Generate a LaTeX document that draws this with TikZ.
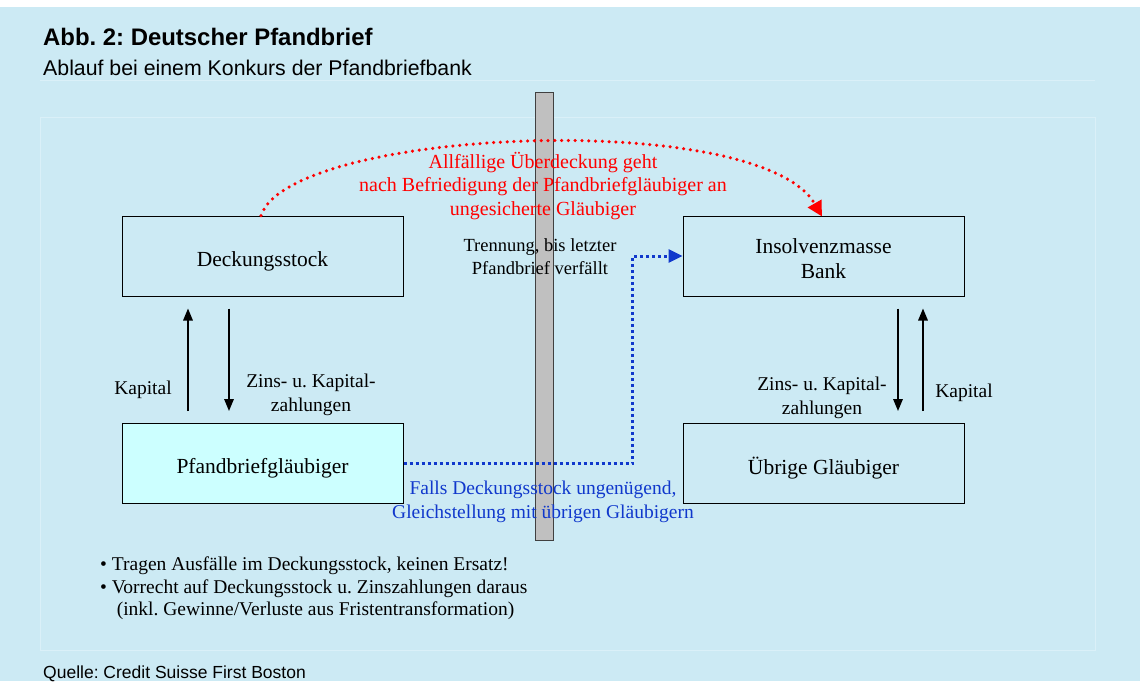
\documentclass[tikz,border=0pt]{standalone}
\usepackage{fontspec}
\setmainfont{Liberation Serif}
\setsansfont{Liberation Sans}
\usetikzlibrary{arrows.meta,positioning,calc}
\definecolor{bgblue}{RGB}{204,234,244}
\definecolor{faint}{RGB}{218,240,248}
\definecolor{pfcyan}{RGB}{204,255,255}
\definecolor{barg}{RGB}{192,192,192}
\definecolor{bard}{RGB}{64,64,64}
\definecolor{myred}{RGB}{255,0,0}
\definecolor{myblue}{RGB}{16,56,204}
\tikzset{
  box/.style={draw=black,line width=1pt,minimum width=281pt,minimum height=80pt,inner sep=0pt},
  boxtext/.style={inner sep=0pt,align=center,font=\fontsize{21.5}{25}\selectfont},
  lbl/.style={inner sep=0pt,align=center,font=\fontsize{19.5}{23.5}\selectfont},
  flow/.style={line width=1.6pt,-{Triangle[length=12pt,width=9.5pt]}},
  reddot/.style={draw=myred,line width=3.5pt,line cap=round,dash pattern=on 0pt off 6.8pt,-{Triangle[length=15pt,width=15pt,line cap=butt]}},
  bluedot/.style={draw=myblue,line width=3pt,dash pattern=on 3pt off 3pt,-{Triangle[length=14pt,width=13pt]}}
}
\begin{document}
\frenchspacing
\begin{tikzpicture}[x=1pt,y=-1pt]
\useasboundingbox (0,0) rectangle (1140,681);
\fill[white] (0,0) rectangle (1140,681);
\fill[bgblue] (0,7) rectangle (1140,681);
\draw[faint,line width=1pt] (40,80) -- (1095,80);
\draw[faint,line width=0.8pt] (40,117) rectangle (1095,650);
% title
\node[anchor=base west,inner sep=0pt,font=\sffamily\bfseries\fontsize{23.9}{27}\selectfont] (title) at (43,45) {Abb. 2: Deutscher Pfandbrief};
\node[anchor=base west,inner sep=0pt,font=\sffamily\fontsize{21.3}{24}\selectfont] (sub) at (43,75.5) {Ablauf bei einem Konkurs der Pfandbriefbank};
% boxes
\node[box] (ds) at (262.5,256) {};
\node[box] (ib) at (823.5,256) {};
\node[box,fill=pfcyan] (pg) at (262.5,463.5) {};
\node[box] (ug) at (823.5,463.5) {};
\node[boxtext,yshift=-5pt] (dst) at (ds) {Deckungsstock};
\node[boxtext,yshift=-2.5pt] (ibt) at (ib) {Insolvenzmasse\\Bank};
\node[boxtext,yshift=-4.5pt] (pgt) at (pg) {Pfandbriefgläubiger};
\node[boxtext,yshift=-4.5pt] (ugt) at (ug) {Übrige Gläubiger};
% separator bar
\node[draw=bard,fill=barg,line width=1pt,minimum width=18pt,minimum height=448pt,inner sep=0pt] (bar) at (544,316) {};
% left flows
\draw[flow] ([xshift=-74.5pt,yshift=12pt]pg.north) -- ([xshift=-74.5pt,yshift=-12pt]ds.south);
\draw[flow] ([xshift=-33.5pt,yshift=-12pt]ds.south) -- ([xshift=-33.5pt,yshift=12pt]pg.north);
% right flows
\draw[flow] ([xshift=74.5pt,yshift=-12pt]ib.south) -- ([xshift=74.5pt,yshift=12pt]ug.north);
\draw[flow] ([xshift=99.5pt,yshift=12pt]ug.north) -- ([xshift=99.5pt,yshift=-12pt]ib.south);
% flow labels
\node[lbl] (kl) at (143,390) {Kapital};
\node[lbl] (zl) at (311,395) {Zins- u. Kapital-\\zahlungen};
\node[lbl] (zr) at (822,398) {Zins- u. Kapital-\\zahlungen};
\node[lbl] (kr) at (964,393) {Kapital};
% red arc
\draw[reddot] ([xshift=-1.5pt]ds.north) .. controls (290,128) and (760,108) .. ([xshift=-1.5pt,yshift=-1pt]ib.north);
\node[lbl,font=\fontsize{20}{23.5}\selectfont,text=myred] (rt) at (543,186) {Allfällige Überdeckung geht\\nach Befriedigung der Pfandbriefgläubiger an\\ungesicherte Gläubiger};
% separation text
\node[lbl,font=\fontsize{18.5}{23}\selectfont] (tr) at (540,256.5) {Trennung, bis letzter\\Pfandbrief verfällt};
% blue connector
\draw[bluedot] (pg.east) -- ++(229,0) |- (ib.west);
\node[lbl,text=myblue] (bt) at (543,502) {Falls Deckungsstock ungenügend,\\Gleichstellung mit übrigen Gläubigern};
% bullets
\node[anchor=north west,inner sep=0pt,align=left,font=\fontsize{19.5}{22.5}\selectfont] (bul) at (100,557) {• Tragen Ausfälle im Deckungsstock, keinen Ersatz!\\• Vorrecht auf Deckungsstock u. Zinszahlungen daraus\\\hspace*{0.85em}(inkl. Gewinne/Verluste aus Fristentransformation)};
% source
\node[anchor=base west,inner sep=0pt,font=\sffamily\fontsize{17.5}{20}\selectfont] (src) at (43,678) {Quelle: Credit Suisse First Boston};
\end{tikzpicture}
\end{document}
